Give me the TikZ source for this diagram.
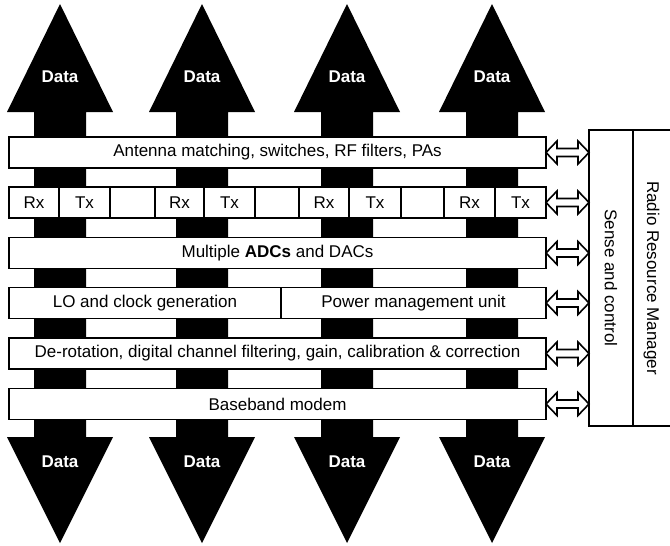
\documentclass[tikz,border=0pt]{standalone}
\usepackage{fontspec}
\setmainfont{Liberation Sans}
\usetikzlibrary{calc}
\begin{document}
\begin{tikzpicture}[x=1pt,y=-1pt,
  box/.style={draw, line width=1.4pt, fill=white, inner sep=0pt, outer sep=0pt,
    anchor=north west, minimum height=31pt, font=\fontsize{17}{20}\selectfont},
  cell/.style={box},
  datalabel/.style={text=white, font=\fontsize{17}{20}\selectfont\bfseries, inner sep=0pt},
  bigarrow/.style={fill=black},
  dblarrow/.style={draw, fill=white, line width=1.6pt, line join=miter}
]
\useasboundingbox (0,0) rectangle (670,546);

% big data arrows
\foreach \c [count=\i] in {60,202,347,492} {
  \fill[bigarrow] (\c-26,112) -- (\c-53,112) -- (\c,4) -- (\c+53,112) -- (\c+26,112)
    -- (\c+26,437) -- (\c+53,437) -- (\c,543) -- (\c-53,437) -- (\c-26,437) -- cycle;
  \node[datalabel] (dataU\i) at (\c,77) {Data};
  \node[datalabel] (dataD\i) at (\c,462) {Data};
}

% layer boxes
\node[box, minimum width=537pt] (b1) at (9,137) {Antenna matching, switches, RF filters, PAs};

\node[cell, minimum width=50pt] (c1) at (9,187) {Rx};
\node[cell, minimum width=51pt] (c2) at (59,187) {Tx};
\node[cell, minimum width=45pt] (c3) at (110,187) {};
\node[cell, minimum width=49pt] (c4) at (155,187) {Rx};
\node[cell, minimum width=51pt] (c5) at (204,187) {Tx};
\node[cell, minimum width=44pt] (c6) at (255,187) {};
\node[cell, minimum width=50pt] (c7) at (299,187) {Rx};
\node[cell, minimum width=52pt] (c8) at (349,187) {Tx};
\node[cell, minimum width=43pt] (c9) at (401,187) {};
\node[cell, minimum width=51pt] (c10) at (444,187) {Rx};
\node[cell, minimum width=51pt] (b2) at (495,187) {Tx};

\node[box, minimum width=537pt] (b3) at (9,237.5) {Multiple \textbf{ADCs} and DACs};

\node[box, minimum width=272pt] (lo) at (9,287.5) {LO and clock generation};
\node[box, minimum width=265pt] (b4) at (281,287.5) {Power management unit};

\node[box, minimum width=537pt] (b5) at (9,338) {De-rotation, digital channel filtering, gain, calibration \& correction};

\node[box, minimum width=537pt] (b6) at (9,388.5) {Baseband modem};

% right side
\node[box, minimum width=44pt, minimum height=296pt] (sense) at (589,130)
  {\rotatebox{-90}{Sense and control}};
\node[inner sep=0pt, outer sep=0pt, anchor=north west, minimum width=37pt,
  minimum height=296pt, font=\fontsize{17}{20}\selectfont] (rrm) at (633,130)
  {\rotatebox{-90}{Radio Resource Manager}};
\draw[line width=1.4pt] (rrm.north east) -- (rrm.north west) -- (rrm.south west) -- (rrm.south east);

% double arrows
\foreach \b in {b1,b2,b3,b4,b5,b6} {
  \draw[dblarrow] let \p1=(\b.east), \p2=(sense.west |- \b.east) in
    (\x1,\y1) -- (\x1+11pt,\y1+11.5pt) -- (\x1+11pt,\y1+4pt) -- (\x2-11pt,\y1+4pt)
    -- (\x2-11pt,\y1+11.5pt) -- (\x2,\y1) -- (\x2-11pt,\y1-11.5pt) -- (\x2-11pt,\y1-4pt)
    -- (\x1+11pt,\y1-4pt) -- (\x1+11pt,\y1-11.5pt) -- cycle;
}
\end{tikzpicture}
\end{document}
